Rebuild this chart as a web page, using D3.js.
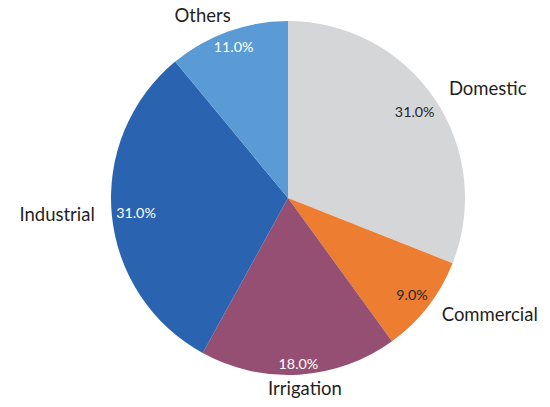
<!DOCTYPE html>
<html><head><meta charset="utf-8">
<script src="https://cdn.jsdelivr.net/npm/d3@7"></script>
<style>body{margin:0;background:#fff}svg{display:block}</style>
</head><body>
<svg id="c" width="550" height="407"></svg>
<script>
const categories = ["Domestic", "Commercial", "Irrigation", "Industrial", "Others"];
const values = [31.0, 9.0, 18.0, 31.0, 11.0];
const colors = ["#d5d6d8", "#ed7d31", "#954f72", "#2a64b0", "#5b9bd5"];
const pctColors = ["#262626", "#262626", "#ffffff", "#ffffff", "#ffffff"];

const W = 550, H = 407, cx = 288, cy = 198, R = 177;
const font = "Lato, 'Open Sans', sans-serif";
const svg = d3.select("#c");
const g = svg.append("g").attr("transform", `translate(${cx},${cy})`);
const data = categories.map((c, i) => ({ c, v: values[i], i }));
const pie = d3.pie().value(d => d.v).sort(null);
const arcs = pie(data);
const arc = d3.arc().innerRadius(0).outerRadius(R);

g.selectAll("path.s").data(arcs).join("path")
  .attr("class", "s").attr("d", arc).attr("fill", d => colors[d.data.i]);

// percentage labels (inside end)
arcs.forEach(a => {
  const th = (a.startAngle + a.endAngle) / 2;
  const s = Math.sin(th), c = Math.cos(th);
  const t = g.append("text").text(d3.format(".1f")(a.data.v) + "%")
    .attr("font-family", font).attr("font-size", 14.3)
    .attr("fill", pctColors[a.data.i])
    .attr("text-anchor", "middle").attr("dominant-baseline", "central");
  const bb = t.node().getBBox();
  const proj = Math.abs(s) * bb.width / 2 + Math.abs(c) * 6;
  const d = R - 4 - proj;
  t.attr("x", s * d).attr("y", -c * d);
});

// category labels (outside)
arcs.forEach(a => {
  const th = (a.startAngle + a.endAngle) / 2;
  const s = Math.sin(th), c = Math.cos(th);
  const t = g.append("text").text(a.data.c)
    .attr("font-family", font).attr("font-size", 18.5)
    .attr("fill", "#1f1f1f")
    .attr("text-anchor", "middle").attr("dominant-baseline", "central");
  const bb = t.node().getBBox();
  const Ro = 192;
  const f = Math.max(-1, Math.min(1, 2 * s));
  t.attr("x", s * Ro + f * (bb.width / 2 + 2)).attr("y", -c * Ro - 2);
});
</script>
</body></html>
